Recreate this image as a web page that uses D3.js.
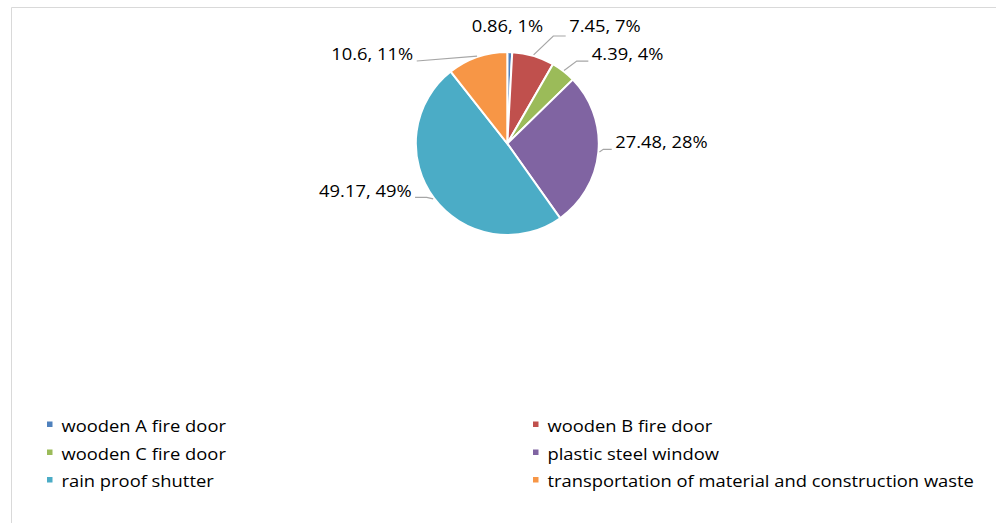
<!DOCTYPE html>
<html>
<head>
<meta charset="utf-8">
<script src="https://cdn.jsdelivr.net/npm/d3@7"></script>
<style>
  html, body { margin: 0; padding: 0; background: #fff; }
  svg { display: block; }
  text { font-family: "Open Sans", "Noto Sans", sans-serif; fill: #000; }
</style>
</head>
<body>
<svg id="chart" width="996" height="523"></svg>
<script>
// Cost breakdown by item
const categories = [
  "wooden A fire door",
  "wooden B fire door",
  "wooden C fire door",
  "plastic steel window",
  "rain proof shutter",
  "transportation of material and construction waste"
];
const values = [0.86, 7.45, 4.39, 27.48, 49.17, 10.6];
const percentLabels = ["1%", "7%", "4%", "28%", "49%", "11%"];
const colors = ["#4F81BD", "#C0504D", "#9BBB59", "#8064A2", "#4BACC6", "#F79646"];

// Data label placement: leader end offset from slice edge, elbow length, side, baseline tweak
const labelLayout = [
  { dx: -2.3, dy: -19.5, elbow: 0, side: 0, tdy: 0, line: false },
  { dx: 32.1, dy: -18.8, elbow: 12.4, side: 1, tdy: -4.3, line: true },
  { dx: 24.3, dy: -9.4, elbow: 11.6, side: 1, tdy: -1, line: true },
  { dx: 12.3, dy: -2.6, elbow: 8.4, side: 1, tdy: -1, line: true },
  { dx: -18.1, dy: -1.5, elbow: 11.7, side: -1, tdy: -0.6, line: true },
  { dx: -60.3, dy: 4.9, elbow: 0, side: -1, tdy: -1, line: true }
];

const svg = d3.select("#chart");
const W = 996, H = 523;
const FONT = 17, STRETCH = 1.08;

// text drawn with a slight horizontal stretch (wide chart font)
function addText(parent, x, y, str, anchor) {
  return parent.append("text")
    .attr("transform", `translate(${x},${y}) scale(${STRETCH},1)`)
    .attr("text-anchor", anchor || "start")
    .attr("font-size", FONT)
    .text(str);
}

// chart area frame (top and left edges)
svg.append("path")
  .attr("d", `M11.5,${H} V7.5 H${W}`)
  .attr("fill", "none")
  .attr("stroke", "#d9d9d9")
  .attr("stroke-width", 1);

const cx = 507.3, cy = 143.5, R = 91.5;
const data = values.map((v, i) => ({ name: categories[i], value: v, pct: percentLabels[i], color: colors[i], layout: labelLayout[i] }));

const pie = d3.pie().value(d => d.value).sort(null);
const arcs = pie(data);
const arc = d3.arc().innerRadius(0).outerRadius(R);

const g = svg.append("g").attr("transform", `translate(${cx},${cy})`);

g.selectAll("path.slice")
  .data(arcs)
  .join("path")
  .attr("class", "slice")
  .attr("d", arc)
  .attr("fill", d => d.data.color)
  .attr("stroke", "#fff")
  .attr("stroke-width", 2)
  .attr("stroke-linejoin", "miter");

// labels and leader lines
const edgeR = R + 1;
arcs.forEach(a => {
  const mid = (a.startAngle + a.endAngle) / 2;
  const ex = edgeR * Math.sin(mid), ey = -edgeR * Math.cos(mid);
  const L = a.data.layout;
  const lx = ex + L.dx, ly = ey + L.dy;
  if (L.line) {
    const bx = lx - L.side * L.elbow;
    g.append("path")
      .attr("d", `M${ex},${ey} L${bx},${ly} L${lx},${ly}`)
      .attr("fill", "none")
      .attr("stroke", "#a6a6a6")
      .attr("stroke-width", 1.2);
  }
  const anchor = L.side === 0 ? "middle" : (L.side > 0 ? "start" : "end");
  addText(g, lx + L.side * 3.5, ly + L.tdy, `${a.data.value}, ${a.data.pct}`, anchor);
});

// legend: two columns, three rows
const legendCols = [47, 533];
const legendRows = [431.5, 459.5, 487];
const legend = svg.append("g");
data.forEach((d, i) => {
  const col = i % 2, row = Math.floor(i / 2);
  const x = legendCols[col], y = legendRows[row];
  legend.append("rect")
    .attr("x", x).attr("y", y - 10)
    .attr("width", 5.5).attr("height", 5.5)
    .attr("fill", d.color);
  addText(legend, x + 14.5, y, d.name);
});
</script>
</body>
</html>
